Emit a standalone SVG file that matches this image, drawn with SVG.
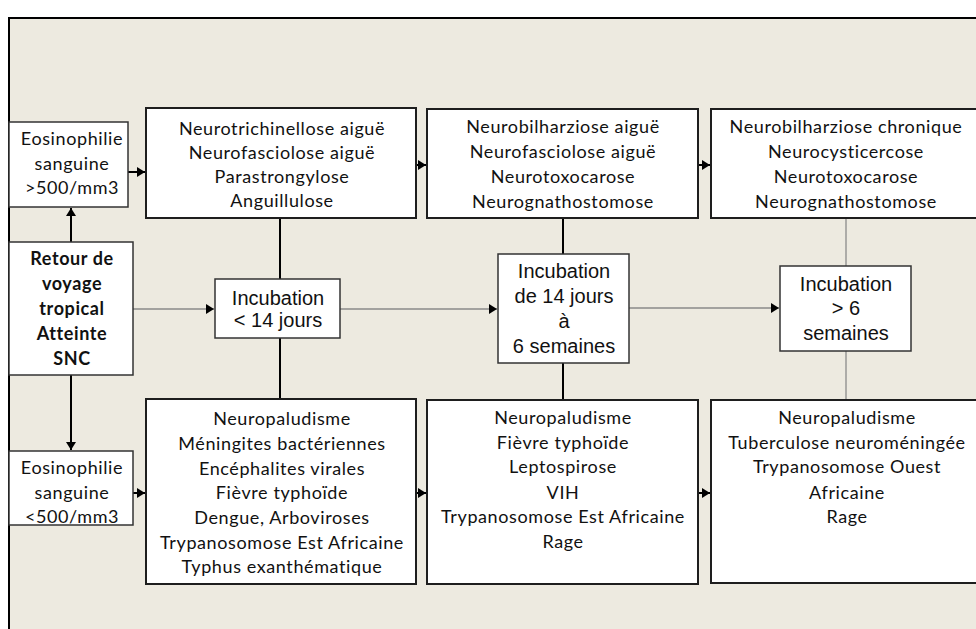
<svg xmlns="http://www.w3.org/2000/svg" width="976" height="629" viewBox="0 0 976 629">
<defs>
<marker id="ah" markerUnits="userSpaceOnUse" markerWidth="9" markerHeight="10" refX="8" refY="5" orient="auto">
<path d="M0,0 L8,5 L0,10 z" fill="#000"/>
</marker>
<style>
.box{fill:#fff;stroke:#1e1e1e;stroke-width:2}
.sbox{fill:#fff;stroke:#333;stroke-width:1.5}
.t{font-family:Lato,"Liberation Sans",sans-serif;font-size:18px;letter-spacing:0.6px;fill:#111;text-anchor:middle}
.b{font-family:Lato,"Liberation Sans",sans-serif;font-size:18px;letter-spacing:0.6px;font-weight:bold;fill:#111;text-anchor:middle}
.a{font-family:"Liberation Sans",Arial,sans-serif;font-size:20px;fill:#111;text-anchor:middle}
.thick{stroke:#000;stroke-width:2;fill:none}
.thin{stroke:#8a8a8a;stroke-width:1.3;fill:none}
</style>
</defs>
<rect x="0" y="0" width="976" height="629" fill="#fff"/>
<rect x="9" y="18" width="980" height="620" fill="#edeae0" stroke="#000" stroke-width="2"/>

<g id="connectors">
<line class="thick" x1="71" y1="242" x2="71" y2="208" marker-end="url(#ah)"/>
<line class="thick" x1="71" y1="375" x2="71" y2="450" marker-end="url(#ah)"/>
<line class="thick" x1="128" y1="172" x2="145" y2="172" marker-end="url(#ah)"/>
<line class="thick" x1="133" y1="493" x2="145" y2="493" marker-end="url(#ah)"/>
<line class="thick" x1="416" y1="165" x2="426" y2="165" marker-end="url(#ah)"/>
<line class="thick" x1="416" y1="493" x2="426" y2="493" marker-end="url(#ah)"/>
<line class="thick" x1="698" y1="165" x2="710" y2="165" marker-end="url(#ah)"/>
<line class="thick" x1="698" y1="493" x2="710" y2="493" marker-end="url(#ah)"/>
<line class="thin" x1="133" y1="309" x2="214" y2="309" marker-end="url(#ah)"/>
<line class="thin" x1="340" y1="309" x2="497" y2="309" marker-end="url(#ah)"/>
<line class="thin" x1="629" y1="308" x2="779" y2="308" marker-end="url(#ah)"/>
<line class="thick" x1="280" y1="218" x2="280" y2="279"/>
<line class="thick" x1="280" y1="338" x2="280" y2="399"/>
<line class="thick" x1="563" y1="218" x2="563" y2="254"/>
<line class="thick" x1="563" y1="363" x2="563" y2="400"/>
<line class="thin" x1="846" y1="218" x2="846" y2="266"/>
<line class="thin" x1="846" y1="351" x2="846" y2="400"/>
</g>

<g id="eos-high">
<rect class="sbox" x="9" y="122" width="119" height="85"/>
<text class="t" x="72" y="145">Eosinophilie</text>
<text class="t" x="72" y="170">sanguine</text>
<text class="t" x="72" y="194">&gt;500/mm3</text>
</g>

<g id="retour">
<rect class="sbox" x="9" y="242" width="124" height="133"/>
<text class="b" x="72" y="265">Retour de</text>
<text class="b" x="72" y="290">voyage</text>
<text class="b" x="72" y="315">tropical</text>
<text class="b" x="72" y="340">Atteinte</text>
<text class="b" x="72" y="365">SNC</text>
</g>

<g id="eos-low">
<rect class="sbox" x="9" y="451" width="124" height="74"/>
<text class="t" x="72" y="474">Eosinophilie</text>
<text class="t" x="72" y="499">sanguine</text>
<text class="t" x="72" y="523">&lt;500/mm3</text>
</g>

<g id="col1-top">
<rect class="box" x="146" y="108" width="270" height="110"/>
<text class="t" x="282" y="135">Neurotrichinellose aiguë</text>
<text class="t" x="282" y="159">Neurofasciolose aiguë</text>
<text class="t" x="282" y="183">Parastrongylose</text>
<text class="t" x="282" y="207">Anguillulose</text>
</g>

<g id="inc1">
<rect class="sbox" x="215" y="279" width="125" height="59"/>
<text class="a" x="278" y="305">Incubation</text>
<text class="a" x="278" y="327">&lt; 14 jours</text>
</g>

<g id="col1-bottom">
<rect class="box" x="146" y="399" width="270" height="185"/>
<text class="t" x="282" y="425">Neuropaludisme</text>
<text class="t" x="282" y="450">Méningites bactériennes</text>
<text class="t" x="282" y="475">Encéphalites virales</text>
<text class="t" x="282" y="499">Fièvre typhoïde</text>
<text class="t" x="282" y="524">Dengue, Arboviroses</text>
<text class="t" x="282" y="549">Trypanosomose Est Africaine</text>
<text class="t" x="282" y="573">Typhus exanthématique</text>
</g>

<g id="col2-top">
<rect class="box" x="427" y="109" width="271" height="109"/>
<text class="t" x="563" y="133">Neurobilharziose aiguë</text>
<text class="t" x="563" y="158">Neurofasciolose aiguë</text>
<text class="t" x="563" y="183">Neurotoxocarose</text>
<text class="t" x="563" y="208">Neurognathostomose</text>
</g>

<g id="inc2">
<rect class="sbox" x="498" y="254" width="131" height="109"/>
<text class="a" x="564" y="278">Incubation</text>
<text class="a" x="564" y="303">de 14 jours</text>
<text class="a" x="564" y="328">à</text>
<text class="a" x="564" y="353">6 semaines</text>
</g>

<g id="col2-bottom">
<rect class="box" x="427" y="400" width="271" height="184"/>
<text class="t" x="563" y="424">Neuropaludisme</text>
<text class="t" x="563" y="449">Fièvre typhoïde</text>
<text class="t" x="563" y="473">Leptospirose</text>
<text class="t" x="563" y="499">VIH</text>
<text class="t" x="563" y="523">Trypanosomose Est Africaine</text>
<text class="t" x="563" y="548">Rage</text>
</g>

<g id="col3-top">
<rect class="box" x="711" y="109" width="280" height="109"/>
<text class="t" x="846" y="133">Neurobilharziose chronique</text>
<text class="t" x="846" y="158">Neurocysticercose</text>
<text class="t" x="846" y="183">Neurotoxocarose</text>
<text class="t" x="846" y="208">Neurognathostomose</text>
</g>

<g id="inc3">
<rect class="sbox" x="780" y="266" width="131" height="85"/>
<text class="a" x="846" y="291">Incubation</text>
<text class="a" x="846" y="315">&gt; 6</text>
<text class="a" x="846" y="340">semaines</text>
</g>

<g id="col3-bottom">
<rect class="box" x="711" y="400" width="280" height="183"/>
<text class="t" x="847" y="424">Neuropaludisme</text>
<text class="t" x="847" y="449">Tuberculose neuroméningée</text>
<text class="t" x="847" y="473">Trypanosomose Ouest</text>
<text class="t" x="847" y="499">Africaine</text>
<text class="t" x="847" y="523">Rage</text>
</g>
</svg>
